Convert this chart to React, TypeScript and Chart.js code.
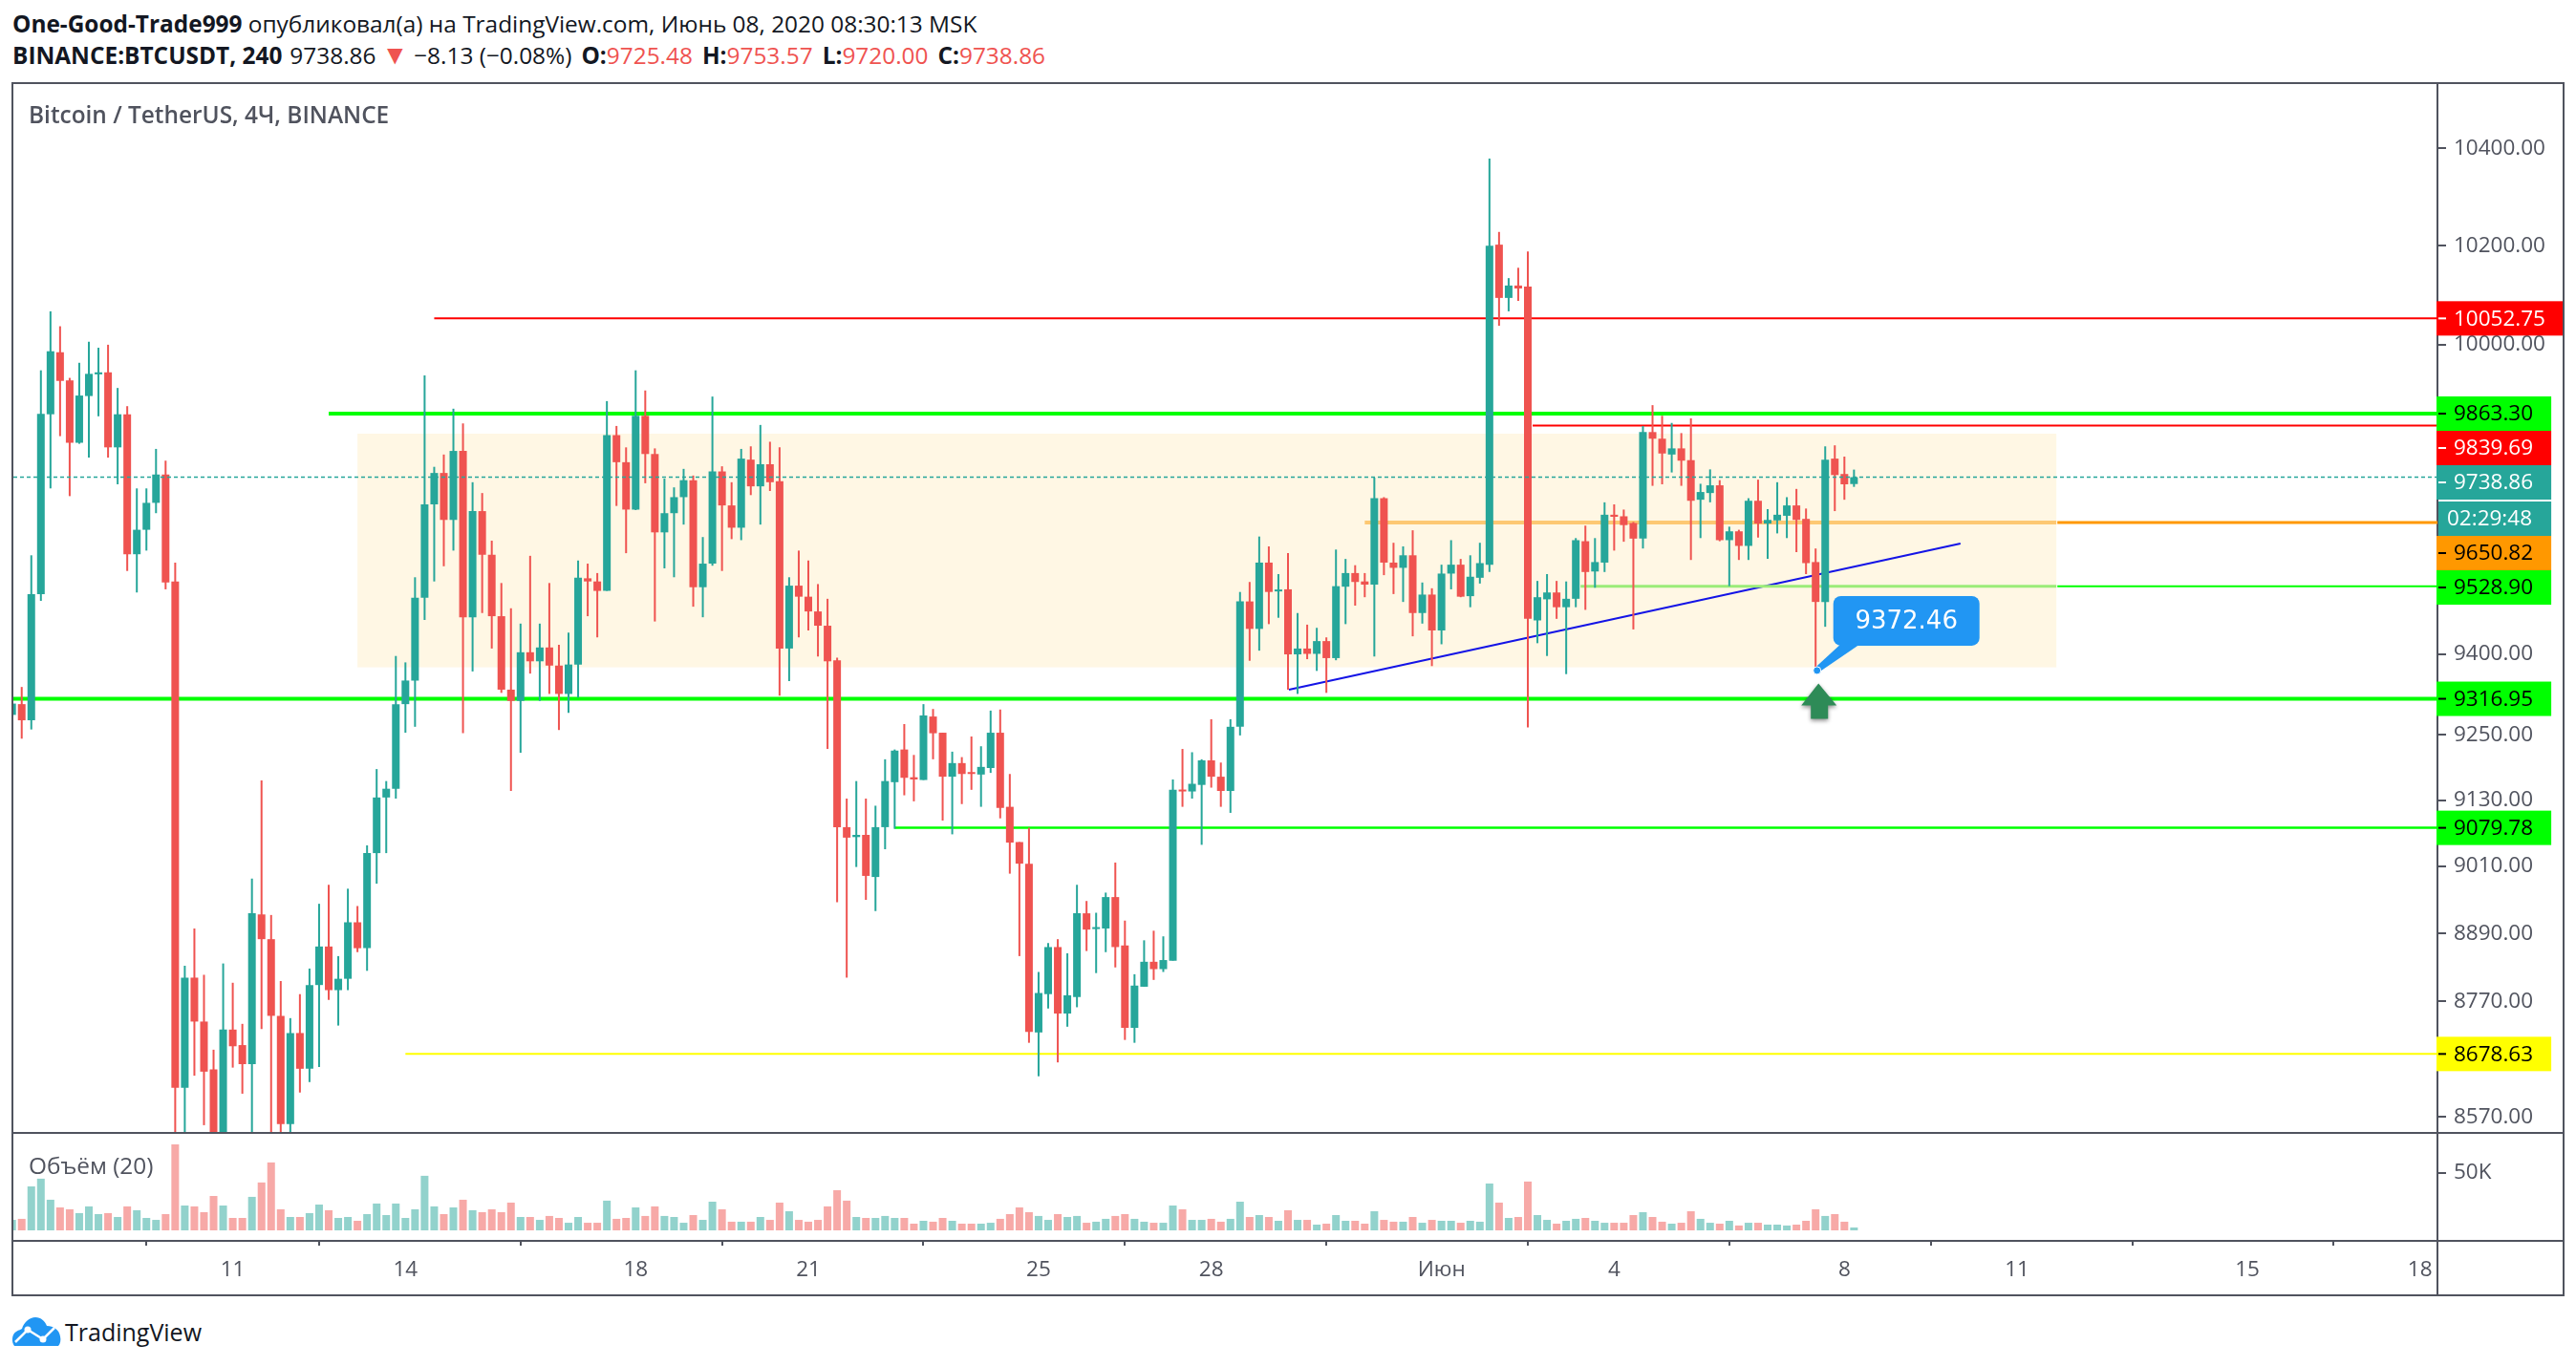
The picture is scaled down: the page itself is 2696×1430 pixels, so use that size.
import { useEffect, useRef } from "react";
import { Chart, registerables } from "chart.js";

Chart.register(...registerables);

// bar index 0 is 11 May 00:00, one bar every 4 hours
const firstBar = -23;

const open = [
	9287, 9307, 9277, 9514, 9862, 9985, 9929, 9806, 9898, 9941,
	9945, 9797, 9862, 9590, 9637, 9689, 9744, 9538, 8620, 8812,
	8735, 8652, 8510, 8721, 8694, 8661, 8924, 8880, 8745, 8558,
	8715, 8653, 8799, 8867, 8790, 8810, 8910, 8864, 9034, 9135,
	9151, 9307, 9351, 9507, 9686, 9747, 9656, 9790, 9470, 9673,
	9589, 9472, 9334, 9313, 9404, 9387, 9413, 9379, 9326, 9381,
	9544, 9538, 9520, 9821, 9768, 9676, 9859, 9784, 9632, 9669,
	9700, 9733, 9527, 9572, 9750, 9684, 9641, 9773, 9721, 9764,
	9731, 9411, 9530, 9509, 9481, 9454, 9389, 9081, 9063, 9067,
	8991, 9081, 9163, 9223, 9172, 9167, 9284, 9254, 9173, 9198,
	9180, 9177, 9189, 9254, 9118, 9054, 9015, 8716, 8783, 8866,
	8749, 8778, 8926, 8898, 8899, 8955, 8869, 8724, 8796, 8840,
	8827, 8842, 9149, 9146, 9158, 9203, 9173, 9147, 9265, 9500,
	9448, 9574, 9519, 9523, 9400, 9411, 9401, 9425, 9393, 9528,
	9554, 9538, 9532, 9698, 9574, 9564, 9588, 9478, 9513, 9445,
	9553, 9570, 9510, 9545, 9570, 10202, 10094, 10119, 10117, 9464,
	9504, 9517, 9489, 9505, 9615, 9557, 9574, 9666, 9663, 9650,
	9620, 9827, 9814, 9783, 9795, 9772, 9695, 9708, 9723, 9617,
	9634, 9606, 9693, 9649, 9655, 9664, 9684, 9658, 9575, 9499,
	9775, 9745, 9725.48,
];
const high = [
	9308, 9339, 9588, 9949, 10067, 10037, 9934, 9964, 10006, 9994,
	10000, 9914, 9878, 9717, 9717, 9794, 9771, 9574, 8833, 8899,
	8817, 8686, 8837, 8803, 8731, 8988, 9166, 8923, 8806, 8741,
	8783, 8828, 8943, 8977, 8850, 8970, 8939, 9048, 9187, 9165,
	9397, 9385, 9546, 9939, 9759, 9783, 9873, 9844, 9729, 9708,
	9616, 9535, 9487, 9458, 9587, 9458, 9535, 9418, 9441, 9578,
	9572, 9554, 9888, 9839, 9797, 9949, 9909, 9795, 9736, 9719,
	9755, 9742, 9623, 9897, 9760, 9729, 9794, 9799, 9841, 9808,
	9797, 9546, 9597, 9578, 9533, 9505, 9394, 9133, 9165, 9133,
	9120, 9205, 9223, 9270, 9213, 9307, 9298, 9254, 9219, 9209,
	9247, 9229, 9295, 9297, 9178, 9054, 9080, 8822, 8873, 8880,
	8855, 8977, 8948, 8927, 8963, 9017, 8913, 8818, 8878, 8895,
	8885, 9168, 9224, 9218, 9205, 9279, 9199, 9279, 9518, 9537,
	9624, 9605, 9552, 9592, 9478, 9456, 9450, 9432, 9599, 9581,
	9569, 9554, 9738, 9700, 9612, 9605, 9636, 9536, 9525, 9570,
	9617, 9581, 9588, 9612, 10379, 10228, 10134, 10155, 10188, 9539,
	9552, 9539, 9538, 9621, 9645, 9621, 9690, 9686, 9676, 9652,
	9839, 9880, 9859, 9845, 9825, 9854, 9726, 9754, 9733, 9643,
	9637, 9698, 9734, 9677, 9729, 9700, 9716, 9678, 9601, 9799,
	9801, 9779, 9753.57,
];
const low = [
	9287, 9243, 9260, 9501, 9717, 9819, 9702, 9804, 9777, 9858,
	9777, 9725, 9558, 9517, 9597, 9669, 9523, 8510, 8530, 8641,
	8556, 8480, 8480, 8655, 8610, 8530, 8722, 8520, 8530, 8530,
	8612, 8630, 8656, 8773, 8728, 8790, 8857, 8824, 8979, 9034,
	9133, 9254, 9265, 9465, 9538, 9567, 9597, 9253, 9368, 9478,
	9411, 9328, 9147, 9217, 9364, 9313, 9326, 9259, 9291, 9319,
	9472, 9432, 9520, 9683, 9592, 9675, 9727, 9462, 9563, 9546,
	9647, 9490, 9470, 9568, 9558, 9619, 9617, 9704, 9647, 9712,
	9323, 9350, 9432, 9445, 9396, 9224, 8946, 8812, 9009, 8950,
	8930, 9041, 9078, 9139, 9128, 9167, 9205, 9093, 9068, 9123,
	9149, 9118, 9180, 9097, 8997, 8850, 8698, 8640, 8758, 8664,
	8726, 8760, 8859, 8820, 8857, 8830, 8703, 8698, 8796, 8808,
	8822, 8842, 9118, 9133, 9049, 9153, 9118, 9107, 9249, 9388,
	9407, 9457, 9469, 9334, 9326, 9391, 9369, 9328, 9389, 9457,
	9492, 9508, 9396, 9550, 9514, 9499, 9434, 9458, 9378, 9419,
	9523, 9508, 9489, 9534, 9556, 10038, 10067, 10088, 9264, 9421,
	9397, 9467, 9363, 9489, 9484, 9526, 9556, 9597, 9614, 9447,
	9601, 9722, 9725, 9748, 9722, 9579, 9621, 9690, 9615, 9529,
	9579, 9579, 9622, 9581, 9630, 9621, 9594, 9552, 9372.46, 9452,
	9673, 9695, 9720.0,
];
const close = [
	9308, 9277, 9514, 9863, 9987, 9928, 9806, 9899, 9942, 9945,
	9797, 9862, 9590, 9637, 9689, 9744, 9536, 8620, 8812, 8735,
	8648, 8510, 8721, 8692, 8661, 8926, 8880, 8745, 8558, 8715,
	8653, 8799, 8867, 8790, 8810, 8910, 8864, 9034, 9135, 9151,
	9307, 9351, 9507, 9686, 9747, 9656, 9790, 9470, 9673, 9589,
	9472, 9334, 9313, 9404, 9387, 9413, 9379, 9326, 9381, 9545,
	9538, 9520, 9821, 9768, 9676, 9859, 9784, 9632, 9669, 9700,
	9733, 9527, 9572, 9750, 9684, 9641, 9775, 9721, 9764, 9729,
	9411, 9530, 9509, 9481, 9454, 9387, 9081, 9062, 9067, 8993,
	9081, 9165, 9221, 9171, 9168, 9286, 9253, 9173, 9198, 9178,
	9178, 9191, 9254, 9116, 9053, 9015, 8717, 8785, 8866, 8749,
	8781, 8926, 8897, 8900, 8955, 8866, 8724, 8798, 8840, 8827,
	8843, 9149, 9146, 9160, 9203, 9173, 9147, 9265, 9500, 9448,
	9574, 9518, 9522, 9400, 9411, 9401, 9425, 9393, 9529, 9554,
	9537, 9532, 9698, 9574, 9564, 9588, 9478, 9513, 9445, 9553,
	9570, 9509, 9547, 9573, 10200, 10094, 10119, 10113, 9467, 9508,
	9517, 9489, 9505, 9617, 9556, 9575, 9666, 9662, 9646, 9620,
	9827, 9814, 9785, 9795, 9771, 9693, 9710, 9723, 9617, 9634,
	9606, 9693, 9649, 9656, 9666, 9684, 9656, 9573, 9499, 9773,
	9743, 9725, 9738.86,
];
// thousands
const volumeK = [
	9.1, 10.0, 38.2, 44.9, 26.6, 19.9, 18.3, 15.0, 20.8, 14.1,
	15.0, 11.6, 20.8, 17.5, 10.8, 9.1, 14.1, 74.8, 21.6, 20.8,
	15.8, 29.9, 21.6, 10.8, 10.8, 29.1, 41.6, 59.0, 18.3, 11.6,
	11.6, 15.0, 22.4, 17.5, 10.8, 11.6, 8.3, 14.1, 23.3, 13.3,
	23.3, 10.8, 18.3, 47.4, 20.8, 14.1, 19.9, 26.6, 17.5, 15.8,
	18.3, 15.8, 24.1, 11.6, 11.6, 9.1, 12.5, 10.8, 6.6, 11.6,
	6.6, 6.6, 25.8, 10.0, 10.8, 19.9, 12.5, 20.8, 12.5, 11.6,
	6.6, 13.3, 9.1, 24.9, 18.3, 7.5, 7.5, 7.5, 11.6, 9.1,
	24.1, 16.6, 9.1, 7.5, 9.1, 20.8, 34.9, 25.8, 11.6, 10.8,
	10.8, 12.5, 10.8, 10.8, 5.8, 8.3, 7.5, 10.8, 8.3, 5.8,
	5.8, 5.8, 6.6, 10.0, 14.1, 19.9, 15.8, 12.5, 9.1, 14.1,
	11.6, 12.5, 6.6, 7.5, 10.0, 12.5, 14.1, 10.0, 7.5, 6.6,
	6.6, 21.6, 18.3, 9.1, 9.1, 10.0, 7.5, 10.0, 24.9, 11.6,
	13.3, 11.6, 8.3, 17.5, 9.1, 9.1, 5.0, 5.8, 13.3, 8.3,
	8.3, 5.8, 16.6, 9.1, 7.5, 7.5, 11.6, 6.6, 9.1, 8.3,
	8.3, 6.6, 8.3, 7.5, 40.7, 24.1, 10.8, 11.6, 42.4, 13.3,
	9.1, 5.8, 8.3, 10.0, 10.8, 8.3, 6.6, 6.6, 6.6, 13.3,
	15.8, 11.6, 7.5, 5.8, 6.6, 16.6, 10.0, 6.6, 5.8, 8.3,
	4.2, 6.6, 6.6, 5.0, 5.0, 4.2, 5.0, 8.3, 18.3, 12.5,
	14.1, 7.5, 2.5,
];

const priceTicks = [10400, 10200, 10000, 9400, 9250, 9130, 9010, 8890, 8770, 8570];
const timeTickBars = [0, 18, 42, 60, 84, 102, 126, 144, 168, 186, 210, 228];
const timeTickLabels = ["11", "14", "18", "21", "25", "28", "Июн", "4", "8", "11", "15", "18"];

const lastPrice = 9738.86;
const countdown = "02:29:48";

// horizontal levels drawn on the chart and repeated on the price axis
const redHighLevel = 10052.75;
const greenHighLevel = 9863.3;
const redLevel = 9839.69;
const orangeLevel = 9650.82;
const greenMidLevel = 9528.9;
const greenSupportLevel = 9316.95;
const greenLowLevel = 9079.78;
const yellowLevel = 8678.63;

const rangeBoxBars = [13, 190.1];
const rangeBoxPrices = [9823.8, 9375.7];
const trendBars = [110.1, 180.1];
const trendPrices = [9334, 9610.5];
const markerBar = 165;
const markerPrice = 9372.46;

const TEAL = "#26a69a";
const RED = "#ef5350";
const INK = "#50535e";
const FONT = "'Open Sans'";
const TICK_SIZE = 22.5;
const TEXT_SIZE = 24.4;

// pixel layout of the panes, taken from the frame of the reference
const BAR_PX = 10.04;
const X_MIN = -(243.6 - 14) / BAR_PX;
const X_MAX = X_MIN + 2537 / BAR_PX;
const Y_TOP = 10534.7;
const Y_BOTTOM = 8544.4;

const bars = open.map((_, k) => k + firstBar);
const isUp = open.map((o, k) => close[k] >= o);

const level = (price: number, from: number, to: number, color: string, width: number, order = 2) => ({
	type: "line" as const,
	data: [
		{ x: from, y: price },
		{ x: to, y: price },
	],
	borderColor: color,
	borderWidth: width,
	pointRadius: 0,
	order,
});

const axisLabels = [
	{ price: redHighLevel, bg: "#ff0000", fg: "#ffffff" },
	{ price: greenHighLevel, bg: "#00ff00", fg: "#000000" },
	{ price: redLevel, bg: "#ff0000", fg: "#ffffff" },
	{ price: lastPrice, bg: TEAL, fg: "#ffffff", timer: true },
	{ price: orangeLevel, bg: "#ff9800", fg: "#000000" },
	{ price: greenMidLevel, bg: "#00ff00", fg: "#000000" },
	{ price: greenSupportLevel, bg: "#00ff00", fg: "#000000" },
	{ price: greenLowLevel, bg: "#00ff00", fg: "#000000" },
	{ price: yellowLevel, bg: "#ffff00", fg: "#000000" },
];

// keeps the chart area on the frame: no room reserved for the edge tick labels
const fitYAxis = (s: any) => {
	s.width = 131;
	s.paddingTop = 0;
	s.paddingBottom = 0;
};

const overlayPlugin = {
	id: "overlay",
	beforeDatasetsDraw(chart: any) {
		const { ctx, scales } = chart;
		const x0 = scales.x.getPixelForValue(rangeBoxBars[0]);
		const x1 = scales.x.getPixelForValue(rangeBoxBars[1]);
		const y0 = scales.y.getPixelForValue(rangeBoxPrices[0]);
		const y1 = scales.y.getPixelForValue(rangeBoxPrices[1]);
		ctx.save();
		ctx.fillStyle = "#fff7e4";
		ctx.fillRect(x0, y0, x1 - x0, y1 - y0);
		ctx.restore();
	},
	afterDraw(chart: any) {
		const { ctx, scales, chartArea } = chart;
		ctx.save();

		// arrow under the low
		const mx = scales.x.getPixelForValue(markerBar);
		const my = scales.y.getPixelForValue(markerPrice);
		const ax = mx + 3;
		const ay = my + 15;
		ctx.save();
		ctx.shadowColor = "rgba(0,0,0,0.45)";
		ctx.shadowBlur = 4;
		ctx.shadowOffsetY = 2;
		ctx.fillStyle = "#2e8b57";
		ctx.beginPath();
		ctx.moveTo(ax, ay);
		ctx.lineTo(ax + 19, ay + 23);
		ctx.lineTo(ax + 10, ay + 23);
		ctx.lineTo(ax + 10, ay + 37);
		ctx.lineTo(ax - 8, ay + 37);
		ctx.lineTo(ax - 8, ay + 23);
		ctx.lineTo(ax - 18, ay + 23);
		ctx.closePath();
		ctx.fill();
		ctx.restore();

		// callout with the low price
		const cx = mx + 1.5;
		const cy = my + 1.5;
		const bx = cx + 17;
		const by = cy - 78;
		const bw = 153;
		const bh = 52;
		ctx.fillStyle = "#2196f3";
		ctx.beginPath();
		ctx.roundRect(bx, by, bw, bh, 8);
		ctx.fill();
		ctx.beginPath();
		ctx.moveTo(bx + 7, by + bh - 1);
		ctx.lineTo(bx + 27, by + bh - 1);
		ctx.lineTo(cx + 3, cy + 1);
		ctx.lineTo(cx - 1, cy - 4);
		ctx.closePath();
		ctx.fill();
		ctx.beginPath();
		ctx.arc(cx, cy, 4, 0, Math.PI * 2);
		ctx.fill();
		ctx.strokeStyle = "#ffffff";
		ctx.lineWidth = 1;
		ctx.stroke();
		ctx.fillStyle = "#ffffff";
		ctx.font = `26px 'DejaVu Sans'`;
		ctx.textAlign = "center";
		ctx.textBaseline = "middle";
		ctx.fillText(markerPrice.toFixed(2), bx + bw / 2, by + bh / 2 + 1);

		// price labels on the axis, pushed down so they never overlap
		const H = 36;
		const axisX = chartArea.right - 1;
		ctx.textAlign = "left";
		ctx.font = `${TICK_SIZE}px ${FONT}`;
		let nextFree = -Infinity;
		for (const l of axisLabels) {
			const text = l.price.toFixed(2);
			const top = Math.max(scales.y.getPixelForValue(l.price) - H / 2, nextFree);
			const w = ctx.measureText(text).width + 37;
			ctx.fillStyle = l.bg;
			ctx.fillRect(axisX, top, w, H);
			ctx.fillStyle = l.fg;
			ctx.fillRect(axisX + 2, top + H / 2 - 1, 8, 2);
			ctx.fillText(text, axisX + 18, top + H / 2 + 1);
			nextFree = top + H;
			if (l.timer) {
				ctx.fillStyle = l.bg;
				ctx.fillRect(axisX + 2, nextFree + 2, w - 2, H);
				ctx.fillStyle = l.fg;
				ctx.fillText(countdown, axisX + 11, nextFree + 2 + H / 2 + 1);
				nextFree += H + 2;
			}
		}
		ctx.restore();
	},
};

function rule(left: number, top: number, width: number, height: number) {
	return <div style={{ position: "absolute", left, top, width, height, background: INK }} />;
}

export default function App() {
	const priceRef = useRef<HTMLCanvasElement>(null);
	const volumeRef = useRef<HTMLCanvasElement>(null);

	useEffect(() => {
		const price = new Chart(priceRef.current!, {
			type: "bar",
			plugins: [overlayPlugin],
			data: {
				datasets: [
					level(orangeLevel, 118, rangeBoxBars[1], "#fdc873", 4),
					level(orangeLevel, rangeBoxBars[1] + 0.1, X_MAX, "#ff9800", 3),
					level(greenMidLevel, 140.5, rangeBoxBars[1], "#9bec78", 3),
					level(greenMidLevel, rangeBoxBars[1] + 0.1, X_MAX, "#00ff00", 2),
					level(redHighLevel, 21, X_MAX, "#ff0000", 2),
					level(greenHighLevel, 10, X_MAX, "#00ff00", 4),
					level(redLevel, 135.5, X_MAX, "#ff0000", 2),
					level(greenSupportLevel, X_MIN, X_MAX, "#00ff00", 4),
					level(greenLowLevel, 69, X_MAX, "#00ff00", 2.5),
					level(yellowLevel, 18, X_MAX, "#ffff00", 2),
					{
						type: "line" as const,
						data: [
							{ x: trendBars[0], y: trendPrices[0] },
							{ x: trendBars[1], y: trendPrices[1] },
						],
						borderColor: "#1414e6",
						borderWidth: 2,
						pointRadius: 0,
						order: 2,
					},
					{
						...level(lastPrice, X_MIN, X_MAX, TEAL, 1.5, -1),
						borderDash: [4, 3],
					},
					{
						data: bars.map((x, k) => ({ x, y: [low[k], high[k]] })),
						backgroundColor: isUp.map((u) => (u ? TEAL : RED)),
						maxBarThickness: 2,
						barPercentage: 1,
						categoryPercentage: 1,
						grouped: false,
						inflateAmount: 0,
						order: 1,
					},
					{
						data: bars.map((x, k) => ({
							x,
							y: [Math.min(open[k], close[k]), Math.max(open[k], close[k])],
						})),
						backgroundColor: isUp.map((u) => (u ? TEAL : RED)),
						maxBarThickness: 8,
						barPercentage: 1,
						categoryPercentage: 1,
						grouped: false,
						inflateAmount: 0,
						minBarLength: 2,
						order: 0,
					},
				] as any,
			},
			options: {
				animation: false,
				responsive: false,
				events: [],
				layout: { padding: 0 },
				plugins: { legend: { display: false }, tooltip: { enabled: false } },
				scales: {
					x: { type: "linear", display: false, min: X_MIN, max: X_MAX, offset: false, bounds: "data" },
					y: {
						type: "logarithmic",
						position: "right",
						min: Y_BOTTOM,
						max: Y_TOP,
						bounds: "data",
						afterFit: fitYAxis,
						afterBuildTicks: (s: any) => {
							s.ticks = priceTicks.map((value) => ({ value }));
						},
						border: { display: false },
						grid: { drawOnChartArea: false, tickLength: 9, tickColor: INK, lineWidth: 2 },
						ticks: {
							autoSkip: false,
							padding: 8,
							color: INK,
							font: { family: FONT, size: TICK_SIZE },
							callback: (v: any) => Number(v).toFixed(2),
						},
					},
				},
			} as any,
		});

		const volume = new Chart(volumeRef.current!, {
			type: "bar",
			data: {
				datasets: [
					{
						data: bars.map((x, k) => ({ x, y: volumeK[k] })),
						backgroundColor: isUp.map((u) => (u ? "rgba(38,166,154,0.5)" : "rgba(239,83,80,0.5)")),
						maxBarThickness: 8,
						barPercentage: 1,
						categoryPercentage: 1,
						grouped: false,
						inflateAmount: 0,
					},
				] as any,
			},
			options: {
				animation: false,
				responsive: false,
				events: [],
				layout: { padding: 0 },
				plugins: { legend: { display: false }, tooltip: { enabled: false } },
				scales: {
					x: {
						type: "linear",
						min: X_MIN,
						max: X_MAX,
						offset: false,
						bounds: "data",
						afterFit: (s: any) => {
							s.height = 57;
							s.paddingLeft = 0;
							s.paddingRight = 0;
						},
						afterBuildTicks: (s: any) => {
							s.ticks = timeTickBars.map((value) => ({ value }));
						},
						border: { display: false },
						grid: { drawOnChartArea: false, tickLength: 6, tickColor: INK, lineWidth: 2 },
						ticks: {
							autoSkip: false,
							maxRotation: 0,
							minRotation: 0,
							padding: 12,
							color: INK,
							font: { family: FONT, size: TICK_SIZE },
							callback: (_: any, i: number) => timeTickLabels[i],
						},
					},
					y: {
						type: "linear",
						position: "right",
						min: -8.3,
						max: 83.83,
						bounds: "data",
						afterFit: fitYAxis,
						afterBuildTicks: (s: any) => {
							s.ticks = [{ value: 50 }];
						},
						border: { display: false },
						grid: { drawOnChartArea: false, tickLength: 9, tickColor: INK, lineWidth: 2 },
						ticks: {
							autoSkip: false,
							padding: 8,
							color: INK,
							font: { family: FONT, size: TICK_SIZE },
							callback: (v: any) => `${v}K`,
						},
					},
				},
			} as any,
		});

		return () => {
			price.destroy();
			volume.destroy();
		};
	}, []);

	const line: React.CSSProperties = {
		position: "absolute",
		left: 13,
		fontFamily: FONT,
		fontSize: TEXT_SIZE,
		lineHeight: "32px",
		color: "#131722",
		whiteSpace: "pre",
	};
	const gap = (marginLeft: number): React.CSSProperties => ({ marginLeft });
	const loss = (marginLeft: number): React.CSSProperties => ({ marginLeft, color: RED });

	return (
		<div
			style={{
				position: "absolute",
				left: 0,
				top: 0,
				width: 2696,
				height: 1430,
				background: "#fff",
				overflow: "hidden",
			}}
		>
			<div style={{ ...line, top: 9 }}>
				<b>One-Good-Trade999</b> опубликовал(а) на TradingView.com, Июнь 08, 2020 08:30:13 MSK
			</div>
			<div style={{ ...line, top: 42 }}>
				<b>BINANCE:BTCUSDT, 240</b>
				<span style={gap(8)}>9738.86</span>
				<span style={{ color: RED, marginLeft: 6, fontSize: 28, lineHeight: "24px" }}>▼</span>
				<span style={gap(6)}>−8.13 (−0.08%)</span>
				<b style={gap(10)}>O:</b>
				<span style={{ color: RED }}>9725.48</span>
				<b style={gap(10)}>H:</b>
				<span style={{ color: RED }}>9753.57</span>
				<b style={gap(10)}>L:</b>
				<span style={{ color: RED }}>9720.00</span>
				<b style={gap(10)}>C:</b>
				<span style={{ color: RED }}>9738.86</span>
			</div>

			{rule(12, 86, 2672, 2)}
			{rule(12, 86, 2, 1271)}
			{rule(2682, 86, 2, 1271)}
			{rule(12, 1355, 2672, 2)}
			{rule(2550, 86, 2, 1271)}
			{rule(12, 1185, 2672, 2)}
			{rule(12, 1298, 2672, 2)}

			<canvas
				ref={priceRef}
				width={2668}
				height={1097}
				style={{ position: "absolute", left: 14, top: 88, display: "block" }}
			/>
			<canvas
				ref={volumeRef}
				width={2668}
				height={168}
				style={{ position: "absolute", left: 14, top: 1187, display: "block" }}
			/>

			<div
				style={{
					position: "absolute",
					left: 30,
					top: 104,
					fontFamily: FONT,
					fontSize: TEXT_SIZE,
					fontWeight: 600,
					lineHeight: "32px",
					color: INK,
					whiteSpace: "pre",
				}}
			>
				Bitcoin / TetherUS, 4Ч, BINANCE
			</div>
			<div
				style={{
					position: "absolute",
					left: 30,
					top: 1204,
					fontFamily: FONT,
					fontSize: TEXT_SIZE,
					lineHeight: "32px",
					color: INK,
					whiteSpace: "pre",
				}}
			>
				Объём (20)
			</div>

			<svg
				width={52}
				height={30}
				viewBox="0 0 52 30"
				style={{ position: "absolute", left: 12, top: 1379 }}
			>
				<path
					d="M3 30 C0 26 0 18 5 15 C8 13 10 13 11 12 C13 5 19 0 25 0 C31 0 35 4 37 9 C44 9 50 13 51 20 C52 24 51 28 49 30 Z"
					fill="#2196f3"
				/>
				<polyline points="4,26 17,13 33,23 45,11" fill="none" stroke="#fff" strokeWidth={2.5} />
				<circle cx={17} cy={13} r={3.5} fill="#fff" />
				<circle cx={33} cy={23} r={3.5} fill="#fff" />
			</svg>
			<div
				style={{
					position: "absolute",
					left: 68,
					top: 1378,
					fontFamily: FONT,
					fontSize: 25,
					lineHeight: "32px",
					color: "#131722",
				}}
			>
				TradingView
			</div>
		</div>
	);
}
